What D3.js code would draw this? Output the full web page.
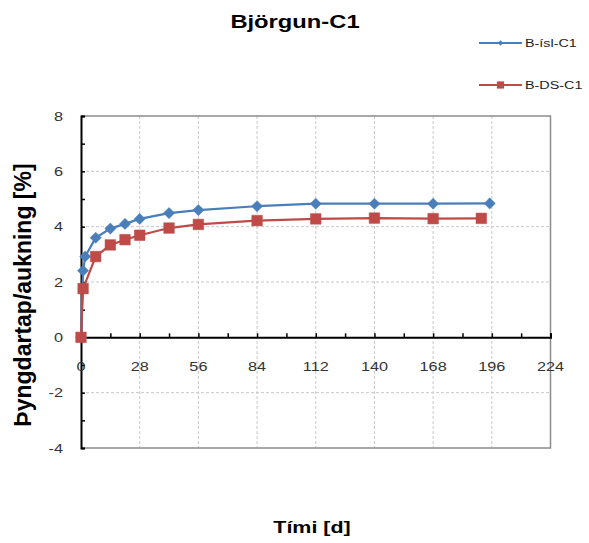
<!DOCTYPE html>
<html>
<head>
<meta charset="utf-8">
<script src="https://cdn.jsdelivr.net/npm/d3@7"></script>
<style>
  html, body { margin: 0; padding: 0; background: #fff; }
  svg { display: block; font-family: "Liberation Sans", Arial, sans-serif; }
</style>
</head>
<body>
<svg id="chart" width="589" height="543"></svg>
<script>
// Weight change over time for two sample series
const seriesNames = ["B-ísl-C1", "B-DS-C1"];
const seriesColors = ["#4a7ebb", "#be4b48"];

const islDays   = [0, 1, 2, 7, 14, 21, 28, 42, 56, 84, 112, 140, 168, 195];
const islValues = [0, 2.41, 2.92, 3.6, 3.93, 4.1, 4.28, 4.49, 4.6, 4.74, 4.83, 4.83, 4.83, 4.84];

const dsDays   = [0, 1, 7, 14, 21, 28, 42, 56, 84, 112, 140, 168, 191];
const dsValues = [0, 1.76, 2.92, 3.34, 3.53, 3.69, 3.95, 4.08, 4.22, 4.28, 4.31, 4.29, 4.3];

const xTicks = [0, 28, 56, 84, 112, 140, 168, 196, 224];
const yTicks = [-4, -2, 0, 2, 4, 6, 8];

const svg = d3.select("#chart");
const plotLeft = 81, plotRight = 550.5, plotTop = 116, plotBottom = 448;
const textStretch = 1.25;   // horizontal widening of the chart lettering

const x = d3.scaleLinear().domain([0, 224]).range([plotLeft, plotRight]);
const y = d3.scaleLinear().domain([-4, 8]).range([plotBottom, plotTop]);

// places a text at (tx, ty) widened horizontally by sx
function placeText(sel, tx, ty, sx) {
  return sel.attr("transform", (d, i) => {
    const px = typeof tx === "function" ? tx(d, i) : tx;
    const py = typeof ty === "function" ? ty(d, i) : ty;
    return `translate(${px},${py}) scale(${sx},1)`;
  });
}

// dashed gridlines
const grid = svg.append("g");
grid.selectAll("line.gx").data(xTicks.filter(d => d > 0 && d < 224)).join("line")
  .attr("x1", d => x(d)).attr("x2", d => x(d))
  .attr("y1", plotTop).attr("y2", plotBottom)
  .attr("stroke", "#c8c8c8").attr("stroke-width", 1).attr("stroke-dasharray", "3,2");
grid.selectAll("line.gy").data(yTicks.filter(d => d !== 0 && d > -4 && d < 8)).join("line")
  .attr("x1", plotLeft).attr("x2", plotRight)
  .attr("y1", d => y(d)).attr("y2", d => y(d))
  .attr("stroke", "#c8c8c8").attr("stroke-width", 1).attr("stroke-dasharray", "3,2");

// plot area frame (top, right, bottom)
svg.append("path")
  .attr("d", `M${plotLeft},${plotTop}H${plotRight}V${plotBottom}H${plotLeft}`)
  .attr("fill", "none").attr("stroke", "#8c8c8c").attr("stroke-width", 1.5);

// y axis with inward ticks
const yAxis = d3.axisRight(y).tickValues(d3.range(-4, 9, 1)).tickSize(4).tickFormat("");
const gy = svg.append("g").attr("transform", `translate(${plotLeft},0)`).call(yAxis);
gy.select(".domain").attr("stroke", "#000").attr("stroke-width", 2);
gy.selectAll(".tick line").attr("stroke", "#000").attr("stroke-width", 1.5);

// y tick labels
placeText(
  svg.append("g").selectAll("text").data(yTicks).join("text")
    .attr("text-anchor", "end").attr("font-size", 13).attr("fill", "#333")
    .text(d => d),
  63, d => y(d) + 4.7, textStretch);

// x axis through zero, ticks pointing up
const xAxis = d3.axisTop(x).tickValues(d3.range(0, 225, 14)).tickSize(4).tickFormat("");
const gx = svg.append("g").attr("transform", `translate(0,${y(0)})`).call(xAxis);
gx.select(".domain").attr("stroke", "#000").attr("stroke-width", 2);
gx.selectAll(".tick line").attr("stroke", "#000").attr("stroke-width", 1.5);

// x tick labels
placeText(
  svg.append("g").selectAll("text").data(xTicks).join("text")
    .attr("text-anchor", "middle").attr("font-size", 13).attr("fill", "#333")
    .text(d => d),
  d => x(d), y(0) + 33.5, textStretch);

// series
const series = [
  { name: seriesNames[0], color: seriesColors[0], days: islDays, values: islValues, symbol: d3.symbolSquare, rotate: 45, size: 62, legendSize: 14 },
  { name: seriesNames[1], color: seriesColors[1], days: dsDays, values: dsValues, symbol: d3.symbolSquare, rotate: 0, size: 112, legendSize: 52 }
];

const line = d3.line().x(d => x(d[0])).y(d => y(d[1]));

series.forEach(s => {
  const pts = s.days.map((d, i) => [d, s.values[i]]);
  const g = svg.append("g");
  g.append("path").datum(pts).attr("d", line)
    .attr("fill", "none").attr("stroke", s.color).attr("stroke-width", 2.2);
  g.selectAll("path.m").data(pts).join("path")
    .attr("class", "m")
    .attr("transform", d => `translate(${x(d[0])},${y(d[1])}) rotate(${s.rotate})`)
    .attr("d", d3.symbol().type(s.symbol).size(s.size))
    .attr("fill", s.color).attr("stroke", s.color).attr("stroke-width", 0.5);
});

// legend
series.forEach((s, i) => {
  const ly = 43 + i * 42;
  const g = svg.append("g");
  g.append("line").attr("x1", 479).attr("x2", 522).attr("y1", ly).attr("y2", ly)
    .attr("stroke", s.color).attr("stroke-width", 2);
  g.append("path").attr("transform", `translate(500.5,${ly}) rotate(${s.rotate})`)
    .attr("d", d3.symbol().type(s.symbol).size(s.legendSize))
    .attr("fill", s.color);
  placeText(
    g.append("text").attr("font-size", 11.5).attr("fill", "#222").text(s.name),
    525, ly + 4.3, textStretch);
});

// titles
placeText(
  svg.append("text").attr("text-anchor", "middle").attr("font-size", 18).attr("font-weight", "bold")
    .text("Björgun-C1"),
  295, 28, 1.32);

placeText(
  svg.append("text").attr("text-anchor", "middle").attr("font-size", 16.5).attr("font-weight", "bold")
    .text("Tími [d]"),
  312, 533, 1.3);

svg.append("text")
  .attr("transform", "translate(30.5,295) rotate(-90)")
  .attr("text-anchor", "middle").attr("font-size", 23).attr("font-weight", "bold")
  .text("Þyngdartap/aukning [%]");
</script>
</body>
</html>
